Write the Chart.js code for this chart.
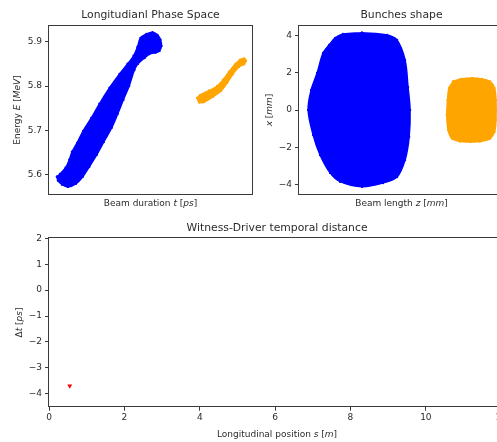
<!DOCTYPE html>
<html>
<head>
<meta charset="utf-8">
<script src="https://cdn.jsdelivr.net/npm/chart.js@4.4.1/dist/chart.umd.min.js"></script>
<style>
  html, body { margin: 0; padding: 0; background: #fff; overflow: hidden; width: 497px; height: 442px; }
  canvas { position: absolute; }
  #phase { left: 0; top: 0; }
  #shape { left: 256px; top: 0; }
  #dist { left: 0; top: 215px; }
</style>
</head>
<body>
<canvas id="phase" width="256" height="215"></canvas>
<canvas id="shape" width="264" height="215"></canvas>
<canvas id="dist" width="520" height="227"></canvas>
<script>
// Longitudinal phase space: outline of each bunch (t in ps, E in MeV)
const driverPhaseT = [-3.13, -2.95, -2.62, -2.40, -2.24, -1.94, -1.58, -1.10, -0.62, -0.02, 0.57, 1.05, 1.40, 1.63, 1.81, 2.16, 2.52, 2.81, 2.99, 3.05, 2.93, 2.69, 2.34, 2.05, 1.66, 1.45, 1.14, 0.80, 0.46, 0.11, -0.36, -0.78, -1.22, -1.60, -2.01, -2.48, -2.83, -3.07, -3.13];
const driverPhaseE = [5.596, 5.602, 5.616, 5.634, 5.652, 5.672, 5.699, 5.728, 5.760, 5.796, 5.827, 5.850, 5.868, 5.888, 5.908, 5.917, 5.921, 5.915, 5.904, 5.890, 5.879, 5.875, 5.872, 5.863, 5.850, 5.836, 5.800, 5.769, 5.737, 5.706, 5.674, 5.645, 5.618, 5.596, 5.580, 5.573, 5.578, 5.587, 5.596];
const witnessPhaseT = [5.16, 5.34, 5.87, 6.34, 6.69, 7.04, 7.40, 7.69, 7.93, 8.04, 7.93, 7.63, 7.28, 6.93, 6.57, 6.10, 5.57, 5.28, 5.16];
const witnessPhaseE = [5.773, 5.780, 5.790, 5.800, 5.814, 5.832, 5.849, 5.859, 5.862, 5.857, 5.849, 5.843, 5.827, 5.807, 5.789, 5.776, 5.764, 5.763, 5.773];

// Transverse bunch shape: outline of each bunch (z and x in mm)
const driverShapeZ = [0.13, 1.48, 2.01, 2.44, 2.60, 2.71, 2.66, 2.44, 2.01, 1.26, 0.13, -1.05, -1.58, -2.12, -2.49, -2.76, -2.60, -2.28, -1.96, -1.64, -1.31, -0.89, 0.13];
const driverShapeX = [4.14, 4.02, 3.75, 2.68, 1.23, 0, -1.45, -2.68, -3.59, -3.91, -4.11, -3.84, -3.37, -2.41, -1.34, 0, 1.07, 1.98, 3.05, 3.48, 3.86, 4.07, 4.14];
const witnessShapeZ = [5.02, 5.44, 6.04, 6.57, 7.00, 7.24, 7.32, 7.32, 7.24, 7.00, 6.46, 5.93, 5.39, 4.96, 4.75, 4.68, 4.72, 4.80, 5.02];
const witnessShapeX = [1.53, 1.66, 1.71, 1.66, 1.53, 1.18, 0.54, -0.54, -1.18, -1.53, -1.69, -1.71, -1.69, -1.53, -1.07, -0.27, 0.54, 1.18, 1.53];

// Witness-driver temporal distance along the line
const positionS = [0.55];
const deltaT = [-3.7];

const BLUE = '#0000ff';
const ORANGE = '#ffa500';
const RED = '#ff0000';
const TEXT = '#2b2b2b';
const FAMILY = '"DejaVu Sans", sans-serif';
const TICK_SIZE = 9;
const LABEL_SIZE = 9;
const TITLE_SIZE = 10.8;

Chart.defaults.font.family = FAMILY;
Chart.defaults.color = TEXT;
Chart.defaults.animation = false;
Chart.defaults.responsive = false;

const zip = (xs, ys) => xs.map((x, i) => ({ x, y: ys[i] }));
const minusSign = v => String(v).replace('-', '\u2212');

// Text pieces: [text, italic]
function drawRich(ctx, parts, size, cx, cy) {
  const fonts = parts.map(p => (p[1] ? 'italic ' : '') + size + 'px ' + FAMILY);
  let total = 0;
  const widths = parts.map((p, i) => { ctx.font = fonts[i]; const w = ctx.measureText(p[0]).width; total += w; return w; });
  let x = cx - total / 2;
  ctx.textAlign = 'left';
  ctx.textBaseline = 'middle';
  parts.forEach((p, i) => { ctx.font = fonts[i]; ctx.fillText(p[0], x, cy); x += widths[i]; });
}

// Frame around the plot area, panel title and axis titles
const panelPlugin = {
  id: 'panel',
  afterDraw(chart, args, opts) {
    const { ctx, chartArea: a } = chart;
    ctx.save();
    ctx.strokeStyle = '#3a3a3a';
    ctx.lineWidth = 1;
    ctx.strokeRect(Math.round(a.left) - 0.5, Math.round(a.top) - 0.5,
      Math.round(a.right - a.left) + 1, Math.round(a.bottom - a.top) + 1);
    ctx.fillStyle = TEXT;
    const cx = (a.left + a.right) / 2;
    const cy = (a.top + a.bottom) / 2;
    drawRich(ctx, [[opts.title, false]], TITLE_SIZE, cx, opts.titleY);
    drawRich(ctx, opts.xTitle, LABEL_SIZE, cx, chart.height - opts.xTitleOffset);
    ctx.translate(opts.yTitleX, cy);
    ctx.rotate(-Math.PI / 2);
    drawRich(ctx, opts.yTitle, LABEL_SIZE, 0, 0);
    ctx.restore();
  }
};

function bunch(points, color) {
  return {
    data: points,
    showLine: true,
    fill: 'shape',
    tension: 0.35,
    borderColor: color,
    backgroundColor: color,
    borderWidth: 1.5,
    pointRadius: 1.2,
    pointBorderWidth: 0,
    pointBackgroundColor: color
  };
}

const tickGrid = { display: true, drawOnChartArea: false, drawTicks: true, tickLength: 4, tickColor: '#3a3a3a', tickWidth: 1 };

function yAxis(min, max, step, width, cb) {
  return {
    type: 'linear', min, max,
    afterFit: s => { s.width = width; },
    border: { display: false },
    grid: tickGrid,
    ticks: { stepSize: step, includeBounds: false, padding: 3, font: { size: TICK_SIZE }, color: TEXT, callback: cb },
    title: { display: false }
  };
}

function hiddenXAxis(min, max) {
  return {
    type: 'linear', min, max,
    afterFit: s => { s.height = 21; },
    border: { display: false },
    grid: { display: false },
    ticks: { display: false },
    title: { display: false }
  };
}

const noChrome = { legend: { display: false }, tooltip: { enabled: false }, title: { display: false } };

new Chart(document.getElementById('phase'), {
  type: 'scatter',
  data: { datasets: [ bunch(zip(driverPhaseT, driverPhaseE), BLUE), bunch(zip(witnessPhaseT, witnessPhaseE), ORANGE) ] },
  options: {
    layout: { padding: { left: 0, right: 3, top: 26, bottom: 0 } },
    plugins: Object.assign({}, noChrome, {
      panel: {
        title: 'Longitudianl Phase Space', titleY: 15,
        xTitle: [['Beam duration ', false], ['t', true], [' [', false], ['ps', true], [']', false]], xTitleOffset: 11,
        yTitle: [['Energy ', false], ['E', true], [' [', false], ['MeV', true], [']', false]], yTitleX: 18
      }
    }),
    scales: {
      x: hiddenXAxis(-3.6, 8.4),
      y: yAxis(5.557, 5.935, 0.1, 49)
    }
  },
  plugins: [panelPlugin]
});

new Chart(document.getElementById('shape'), {
  type: 'scatter',
  data: { datasets: [ bunch(zip(driverShapeZ, driverShapeX), BLUE), bunch(zip(witnessShapeZ, witnessShapeX), ORANGE) ] },
  options: {
    layout: { padding: { left: 0, right: 16, top: 26, bottom: 0 } },
    plugins: Object.assign({}, noChrome, {
      panel: {
        title: 'Bunches shape', titleY: 15,
        xTitle: [['Beam length ', false], ['z', true], [' [', false], ['mm', true], [']', false]], xTitleOffset: 11,
        yTitle: [['x', true], [' [', false], ['mm', true], [']', false]], yTitleX: 14
      }
    }),
    scales: {
      x: hiddenXAxis(-3.25, 7.75),
      y: yAxis(-4.5, 4.5, 2, 43, minusSign)
    }
  },
  plugins: [panelPlugin]
});

new Chart(document.getElementById('dist'), {
  type: 'scatter',
  data: { datasets: [{
    data: zip(positionS, deltaT),
    pointStyle: 'triangle',
    rotation: 180,
    pointRadius: 2.8,
    pointBorderWidth: 0,
    backgroundColor: RED,
    borderColor: RED
  }] },
  options: {
    layout: { padding: { left: 0, right: 15, top: 23.3, bottom: 0 } },
    plugins: Object.assign({}, noChrome, {
      panel: {
        title: 'Witness-Driver temporal distance', titleY: 13.3,
        xTitle: [['Longitudinal position ', false], ['s', true], [' [', false], ['m', true], [']', false]], xTitleOffset: 7,
        yTitle: [['\u0394', false], ['t', true], [' [', false], ['ps', true], [']', false]], yTitleX: 20
      }
    }),
    scales: {
      x: {
        type: 'linear', min: 0, max: 12.1,
        afterFit: s => { s.height = 35.3; },
        border: { display: false },
        grid: tickGrid,
        ticks: { stepSize: 2, includeBounds: false, padding: 2, font: { size: TICK_SIZE }, color: TEXT, maxRotation: 0 },
        title: { display: false }
      },
      y: yAxis(-4.5, 2, 1, 49, minusSign)
    }
  },
  plugins: [panelPlugin]
});
</script>
</body>
</html>
